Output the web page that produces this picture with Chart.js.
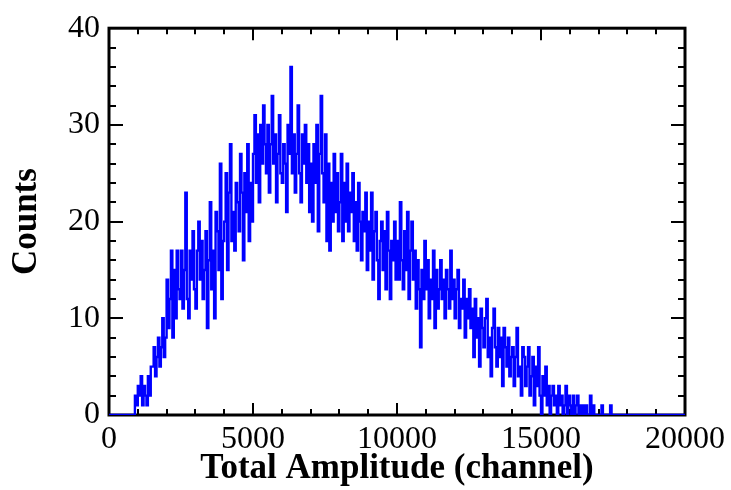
<!DOCTYPE html>
<html>
<head>
<meta charset="utf-8">
<script src="https://cdn.jsdelivr.net/npm/chart.js@4.4.0/dist/chart.umd.min.js"></script>
<style>
html,body{margin:0;padding:0;background:#fff;}
canvas{display:block;}
</style>
</head>
<body>
<canvas id="c" width="731" height="490"></canvas>
<script>
// Histogram: bin width in channels, counts per bin (0..20000)
const binWidth = 50;
const counts = [
0,0,0,0,0,0,0,0,0,0,
0,0,0,0,0,0,0,0,2,1,
3,2,4,1,3,2,1,4,2,5,
5,7,4,6,8,5,7,10,6,8,
14,9,12,17,8,15,10,17,13,12,
17,11,15,23,12,10,17,14,19,13,
11,17,20,14,18,12,15,19,9,16,
22,13,17,10,21,19,15,26,12,18,
20,25,15,23,28,18,21,17,24,22,
19,27,23,16,25,21,28,18,24,20,
27,31,24,29,22,30,26,32,28,25,
30,23,28,33,26,29,22,27,31,25,
24,28,26,21,30,27,36,25,29,23,
27,32,25,22,29,26,30,24,28,21,
26,20,28,24,30,19,27,33,25,22,
29,18,26,17,24,20,27,21,25,19,
22,27,18,24,20,26,19,23,21,25,
18,22,17,24,20,16,21,19,23,15,
20,17,23,14,19,21,16,12,18,20,
15,19,13,21,17,12,18,16,20,14,
18,14,22,16,13,19,15,21,12,17,
20,14,17,11,16,13,7,15,12,18,
13,16,10,14,12,17,9,15,11,13,
16,12,14,10,15,13,11,17,12,14,
10,13,15,9,12,11,14,8,12,10,
13,9,11,6,12,8,10,5,11,9,
7,10,12,6,8,4,9,11,7,5,
9,6,8,3,9,7,5,8,4,6,
7,3,6,9,4,5,2,7,6,3,
5,7,2,4,6,1,5,3,7,2,
0,4,2,5,1,3,0,2,3,1,
2,0,3,1,2,0,1,3,0,2,
1,0,2,0,1,2,0,1,0,1,
0,1,0,0,2,0,1,0,0,0,
0,0,1,0,0,0,0,0,1,0,
0,0,0,0,0,0,0,0,0,0,
0,0,0,0,0,0,0,0,0,0,
0,0,0,0,0,0,0,0,0,0,
0,0,0,0,0,0,0,0,0,0,
0,0,0,0,0,0,0,0,0,0
];
const xTicks = [0, 5000, 10000, 15000, 20000];
const yTicks = [0, 10, 20, 30, 40];
const xTitle = 'Total Amplitude (channel)';
const yTitle = 'Counts';

const points = counts.map((c, i) => ({x: i * binWidth, y: c}));
points.push({x: counts.length * binWidth, y: counts[counts.length - 1]});

const serif = '"Liberation Serif", "Times New Roman", serif';

const framePlugin = {
  id: 'frame',
  beforeDatasetsDraw(chart) {
    const {ctx, chartArea: a, scales: {x, y}} = chart;
    ctx.save();
    ctx.strokeStyle = '#000';
    ctx.lineWidth = 2;
    ctx.beginPath();
    for (let v = 0; v <= 20000; v += 1000) {
      const px = Math.round(x.getPixelForValue(v));
      const len = (v % 5000 === 0) ? 12 : 6;
      ctx.moveTo(px, a.bottom); ctx.lineTo(px, a.bottom - len);
      ctx.moveTo(px, a.top); ctx.lineTo(px, a.top + len);
    }
    for (let v = 0; v <= 40; v += 2) {
      const py = Math.round(y.getPixelForValue(v));
      const len = (v % 10 === 0) ? 14 : 7;
      ctx.moveTo(a.left, py); ctx.lineTo(a.left + len, py);
      ctx.moveTo(a.right, py); ctx.lineTo(a.right - len, py);
    }
    ctx.stroke();
    ctx.lineWidth = 3;
    ctx.strokeRect(a.left, a.top, a.right - a.left, a.bottom - a.top);
    ctx.restore();
  }
};

new Chart(document.getElementById('c'), {
  type: 'line',
  data: {
    datasets: [{
      data: points,
      stepped: 'before',
      borderColor: '#0000ff',
      borderWidth: 2.4,
      pointRadius: 0,
      fill: false,
      tension: 0
    }]
  },
  options: {
    responsive: false,
    animation: false,
    devicePixelRatio: 1,
    layout: {padding: {left: 0, right: 46, top: 25, bottom: 0}},
    plugins: {legend: {display: false}, tooltip: {enabled: false}},
    scales: {
      x: {
        type: 'linear', min: 0, max: 20000,
        afterBuildTicks(s) { s.ticks = xTicks.map(v => ({value: v})); },
        afterFit(s) { s.height = 75; },
        grid: {display: false, drawTicks: false},
        border: {display: false},
        ticks: {color: '#000', font: {family: serif, size: 32}, padding: 5, maxRotation: 0, autoSkip: false,
                callback: v => String(v)},
        title: {display: true, text: xTitle, color: '#000', font: {family: serif, size: 35, weight: 'bold'}, padding: {top: 0, bottom: 0}}
      },
      y: {
        type: 'linear', min: 0, max: 40,
        afterBuildTicks(s) { s.ticks = yTicks.map(v => ({value: v})); },
        afterFit(s) { s.width = 109; },
        grid: {display: false, drawTicks: false},
        border: {display: false},
        ticks: {color: '#000', font: {family: serif, size: 32}, padding: 9, autoSkip: false,
                callback: v => String(v)},
        title: {display: true, text: yTitle, color: '#000', font: {family: serif, size: 35, weight: 'bold'}, padding: {top: 6, bottom: 0}}
      }
    }
  },
  plugins: [framePlugin]
});
</script>
</body>
</html>
